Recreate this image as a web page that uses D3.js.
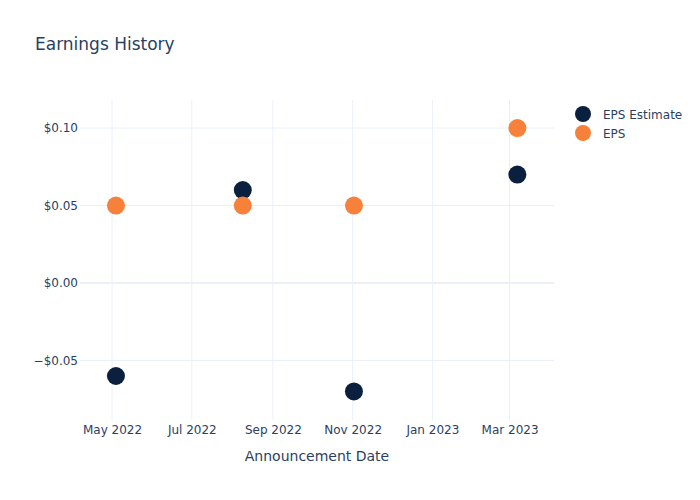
<!DOCTYPE html>
<html><head><meta charset="utf-8">
<script src="https://cdn.jsdelivr.net/npm/d3@7"></script>
<style>body{margin:0;background:#fff}svg{display:block}text{font-family:"DejaVu Sans",sans-serif;fill:#2a3f5f}</style>
</head><body><svg id="c" width="700" height="500"></svg>
<script>
const dates = ["2022-05-04","2022-08-09","2022-11-02","2023-03-07"];
const epsEstimate = [-0.06, 0.06, -0.07, 0.07];
const eps = [0.05, 0.05, 0.05, 0.10];
const seriesNames = ["EPS Estimate","EPS"];
const seriesColors = ["#0b1f3f","#f7813a"];
const xTicks = ["2022-05-01","2022-07-01","2022-09-01","2022-11-01","2023-01-01","2023-03-01"];
const yTicks = [-0.05, 0, 0.05, 0.10];

const parse = d3.utcParse("%Y-%m-%d");
const svg = d3.select("#c");
const L=80,R=554,T=100,B=420;
const x = d3.scaleUtc().domain([new Date(Date.UTC(2022,3,6,12)), new Date(Date.UTC(2023,3,4))]).range([L,R]);
const y = d3.scaleLinear().domain([-0.0884,0.1181]).range([B,T]);

const g = svg.append("g");
// grid
xTicks.forEach(t=>{const px=x(parse(t));
  g.append("line").attr("x1",px).attr("x2",px).attr("y1",T).attr("y2",B).attr("stroke","#ebf0f8").attr("stroke-width",1);});
yTicks.forEach(t=>{const py=y(t);
  g.append("line").attr("x1",L).attr("x2",R).attr("y1",py).attr("y2",py).attr("stroke","#ebf0f8").attr("stroke-width",t===0?2:1);});

// axes
const xa = d3.axisBottom(x).tickValues(xTicks.map(parse)).tickFormat(d3.utcFormat("%b %Y")).tickSize(0).tickPadding(5);
svg.append("g").attr("transform",`translate(0,${B})`).call(xa).call(s=>s.select(".domain").remove())
  .selectAll("text").attr("font-size",12).attr("fill","#2a3f5f").style("font-family","DejaVu Sans");
const fmt = v => (v<0?"\u2212":"")+"$"+Math.abs(v).toFixed(2);
const ya = d3.axisLeft(y).tickValues(yTicks).tickFormat(fmt).tickSize(0).tickPadding(2);
svg.append("g").attr("transform",`translate(${L},0)`).call(ya).call(s=>s.select(".domain").remove())
  .selectAll("text").attr("font-size",12).attr("fill","#2a3f5f").style("font-family","DejaVu Sans");

// points
const series=[epsEstimate,eps];
series.forEach((vals,i)=>{
  svg.append("g").selectAll("circle").data(vals).join("circle")
    .attr("cx",(d,j)=>x(parse(dates[j]))).attr("cy",d=>y(d)).attr("r",9)
    .attr("fill",seriesColors[i]);
});

// titles
svg.append("text").attr("x",35).attr("y",50).attr("font-size",17).text("Earnings History");
svg.append("text").attr("x",(L+R)/2).attr("y",461).attr("text-anchor","middle").attr("font-size",14).text("Announcement Date");

// legend
seriesNames.forEach((n,i)=>{
  const ly=114+i*19;
  svg.append("circle").attr("cx",583).attr("cy",ly).attr("r",8).attr("fill",seriesColors[i]);
  svg.append("text").attr("x",603).attr("y",ly+4.5).attr("font-size",12).text(n);
});
</script></body></html>
